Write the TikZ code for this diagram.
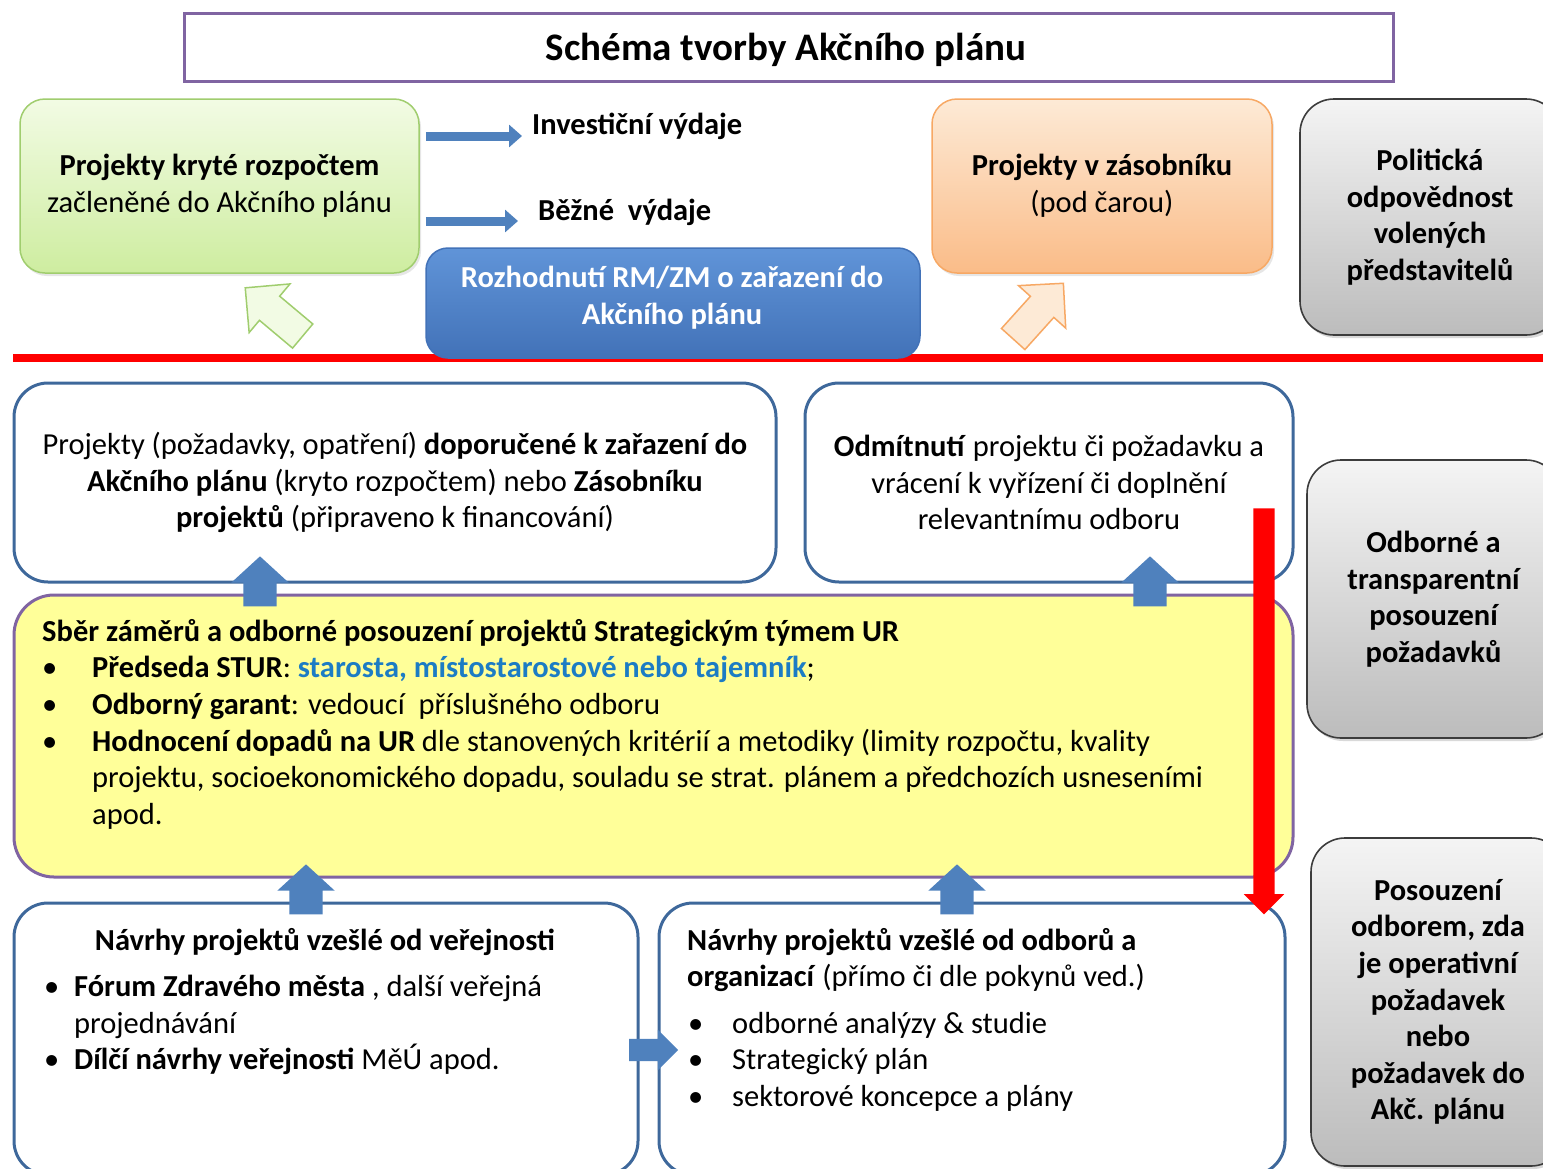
\documentclass[tikz,border=0pt]{standalone}
\usepackage{fontspec}
\setmainfont{Carlito}
\usepackage{xcolor}
\usetikzlibrary{shapes.arrows,arrows.meta,calc,shadows}

\definecolor{planviolet}{RGB}{128,100,162}
\definecolor{planblue}{RGB}{79,129,189}
\definecolor{edgeblue}{RGB}{62,104,155}
\definecolor{sturblue}{RGB}{28,124,196}
\definecolor{planyellow}{RGB}{255,255,153}
\definecolor{planred}{RGB}{255,0,0}
\definecolor{greenedge}{RGB}{160,205,110}
\definecolor{greentop}{RGB}{242,251,228}
\definecolor{greenbot}{RGB}{206,237,160}
\definecolor{orangeedge}{RGB}{247,168,100}
\definecolor{orangetop}{RGB}{253,234,214}
\definecolor{orangebot}{RGB}{250,188,136}
\definecolor{graytop}{RGB}{244,244,244}
\definecolor{graybot}{RGB}{188,188,188}
\definecolor{grayedge}{RGB}{60,60,60}
\definecolor{bluetop}{RGB}{96,148,216}
\definecolor{bluebot}{RGB}{66,114,184}

\newcommand{\bul}{\makebox[44pt][l]{\textbullet}}

\begin{document}
\begin{tikzpicture}[x=1pt,y=-1pt,
  font=\fontsize{30.5}{36.6}\selectfont,
  every node/.style={inner sep=0pt},
  whitebox/.style={draw=edgeblue, line width=3pt, fill=white, rounded corners=34pt},
  sidebox/.style={draw=grayedge, line width=1.6pt, rounded corners=34pt,
    top color=graytop, bottom color=graybot, align=center,
    font=\fontsize{30.5}{36.6}\selectfont\bfseries,
    drop shadow={opacity=0.3, shadow xshift=2pt, shadow yshift=-3pt}},
  upblock/.style={single arrow, fill=planblue, rotate=90, minimum height=50pt,
    inner ysep=16.5pt, single arrow head extend=12pt, single arrow tip angle=95},
  hollowblock/.style={single arrow, line width=1.5pt, minimum height=75pt,
    inner ysep=15pt, single arrow head extend=16pt, single arrow tip angle=90},
  flowline/.style={planblue, line width=9pt, -{Triangle[width=22pt,length=13pt]}},
]
\useasboundingbox (0,0) rectangle (1543,1168);
\clip (0,0) rectangle (1543,1168);

% title
\node[draw=planviolet, line width=3pt, minimum width=1209pt, minimum height=68pt] (title) at (788.5,47) {};
\node[font=\fontsize{39}{44}\selectfont\bfseries] (titletext) at (786,50) {Schéma tvorby Akčního plánu};

% above the line
\node[draw=greenedge, line width=1.5pt, rounded corners=25pt, top color=greentop,
  bottom color=greenbot, minimum width=399pt, minimum height=174pt, align=center,
  drop shadow={opacity=0.2, shadow xshift=2pt, shadow yshift=-3pt}]
  (covered) at (219.5,186) {\textbf{Projekty kryté rozpočtem}\\začleněné do Akčního plánu};
\node[anchor=west, font=\fontsize{30.5}{36.6}\selectfont\bfseries] (invest) at (532,126) {Investiční výdaje};
\node[anchor=west, font=\fontsize{30.5}{36.6}\selectfont\bfseries] (current) at (538,212) {Běžné\ \ výdaje};
\draw[flowline] ($(covered.east |- invest.west)+(6,10)$) -- ($(invest.west)+(-10,10)$);
\draw[flowline] ($(covered.east |- current.west)+(6,9)$) -- ($(current.west)+(-20,9)$);

\node[draw=orangeedge, line width=1.5pt, rounded corners=25pt, top color=orangetop,
  bottom color=orangebot, minimum width=340pt, minimum height=174pt, align=center,
  drop shadow={opacity=0.2, shadow xshift=2pt, shadow yshift=-3pt}]
  (reserve) at (1102,186) {\textbf{Projekty v zásobníku}\\(pod čarou)};

\node[sidebox, minimum width=260pt, minimum height=236pt] (political) at (1430,217)
  {Politická\\odpovědnost\\volených\\představitelů};

% the line
\draw[planred, line width=8pt] (13,358) -- (1543,358);

\node[draw=bluebot, line width=1.5pt, rounded corners=22pt, top color=bluetop,
  bottom color=bluebot, minimum width=494pt, minimum height=110pt] (decision) at (673,303) {};
\node[align=center, text=white, font=\fontsize{30.5}{36.6}\selectfont\bfseries]
  (decisiontext) at (672,297.5) {Rozhodnutí RM/ZM o zařazení do\\Akčního plánu};

\node[hollowblock, draw=greenedge, fill=greentop, rotate=140] (togreen) at (280,317) {};
\node[hollowblock, draw=orangeedge, fill=orangetop, rotate=48] (toorange) at (1033,317) {};

% below the line
\node[whitebox, minimum width=762pt, minimum height=199pt, align=center] (recommended) at (395,482.5)
  {Projekty (požadavky, opatření) \textbf{doporučené k zařazení do}\\
   \textbf{Akčního plánu} (kryto rozpočtem) nebo \textbf{Zásobníku}\\
   \textbf{projektů} (připraveno k financování)};
\node[whitebox, minimum width=488pt, minimum height=199pt, align=center] (rejected) at (1049,482.5)
  {\textbf{Odmítnutí} projektu či požadavku a\\
   vrácení k vyřízení či doplnění\\
   relevantnímu odboru};

\node[sidebox, minimum width=253pt, minimum height=278pt] (expert) at (1433.5,599)
  {Odborné a\\transparentní\\posouzení\\požadavků};

\node[draw=planviolet, line width=3pt, fill=planyellow, rounded corners=40pt,
  minimum width=1279pt, minimum height=282pt] (team) at (653.5,736) {};
\node[anchor=north west, align=left] (teamtext) at (42,619)
  {\textbf{Sběr záměrů a odborné posouzení projektů Strategickým týmem UR}\\
   \makebox[50pt][l]{\textbullet}\textbf{Předseda STUR}: \textcolor{sturblue}{\textbf{starosta, místostarostové nebo tajemník}};\\
   \makebox[50pt][l]{\textbullet}\textbf{Odborný garant}: vedoucí\ \ příslušného odboru\\
   \makebox[50pt][l]{\textbullet}\textbf{Hodnocení dopadů na UR} dle stanovených kritérií a metodiky (limity rozpočtu, kvality\\
   \hspace*{50pt}projektu, socioekonomického dopadu, souladu se strat. plánem a předchozích usneseními\\
   \hspace*{50pt}apod.};

\node[sidebox, minimum width=254pt, minimum height=328pt] (operative) at (1438,1002)
  {Posouzení\\odborem, zda\\je operativní\\požadavek\\nebo\\požadavek do\\Akč. plánu};

\node[whitebox, minimum width=624pt, minimum height=272pt] (public) at (326,1039) {};
\node[font=\fontsize{30.5}{36.6}\selectfont\bfseries] (publichead) at (325,942) {Návrhy projektů vzešlé od veřejnosti};
\node[anchor=north west, align=left] (publictext) at (44,975)
  {\makebox[30pt][l]{\textbullet}\textbf{Fórum Zdravého města} , další veřejná\\
   \hspace*{30pt}projednávání\\
   \makebox[30pt][l]{\textbullet}\textbf{Dílčí návrhy veřejnosti} MěÚ apod.};

\node[whitebox, minimum width=626pt, minimum height=272pt] (offices) at (972,1039) {};
\node[anchor=north west, align=left] (officeshead) at (687,928)
  {\textbf{Návrhy projektů vzešlé od odborů a}\\
   \textbf{organizací} (přímo či dle pokynů ved.)};
\node[anchor=north west, align=left] (officestext) at (688,1012)
  {\bul odborné analýzy \& studie\\
   \bul Strategický plán\\
   \bul sektorové koncepce a plány};

% block arrows
\node[upblock] (uprec) at (260,589) {};
\node[upblock] (uprej) at (1150,589) {};
\node[upblock] (uppublic) at (306,897) {};
\node[upblock] (upoffices) at (957,897) {};
\node[single arrow, fill=planblue, minimum height=49pt, inner ysep=11pt,
  single arrow head extend=9pt, single arrow tip angle=90] (across) at (648,1050) {};
\node[single arrow, fill=planred, rotate=-90, minimum height=406pt, inner ysep=10.5pt,
  single arrow head extend=9.5pt, single arrow tip angle=90] (back) at (1264,706) {};
\end{tikzpicture}
\end{document}
